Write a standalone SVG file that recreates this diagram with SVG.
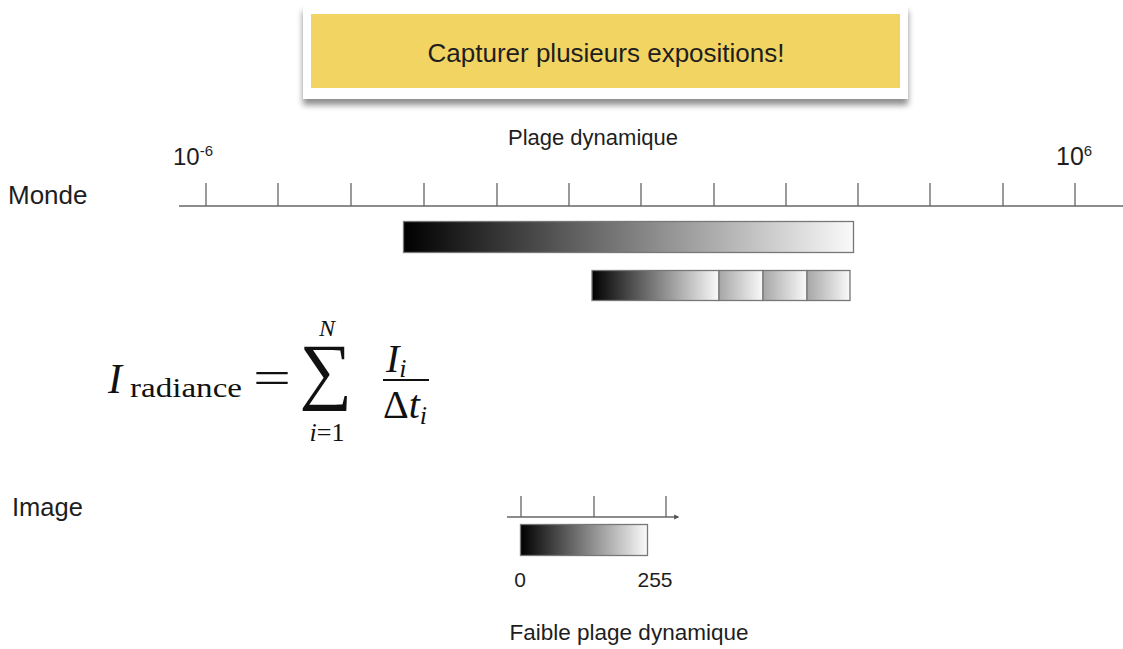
<svg xmlns="http://www.w3.org/2000/svg" width="1123" height="649" viewBox="0 0 1123 649">
<defs>
<linearGradient id="g1" x1="0" x2="1" y1="0" y2="0"><stop offset="0" stop-color="#000"/><stop offset="1" stop-color="#fafafa"/></linearGradient>
<linearGradient id="g2" x1="0" x2="1" y1="0" y2="0"><stop offset="0" stop-color="#a6a6a6"/><stop offset="1" stop-color="#fafafa"/></linearGradient>
<filter id="sh" x="-5%" y="-20%" width="110%" height="150%"><feGaussianBlur in="SourceAlpha" stdDeviation="3"/><feOffset dy="6"/><feComponentTransfer><feFuncA type="linear" slope="0.45"/></feComponentTransfer><feMerge><feMergeNode/><feMergeNode in="SourceGraphic"/></feMerge></filter>
<marker id="arr" markerWidth="4" markerHeight="4" refX="3" refY="2" orient="auto"><path d="M0,0 L4,2 L0,4 z" fill="#555"/></marker>
</defs>
<style>
.t{font-family:"Liberation Sans",Arial,sans-serif;fill:#1e1e1e}
.ax{stroke:#666;stroke-width:1.3;fill:none}
.bar{stroke:#777;stroke-width:1.3}
.m{font-family:"Liberation Serif","Times New Roman",serif;fill:#111}
</style>
<rect width="1123" height="649" fill="#fff"/>
<g id="banner">
<rect x="303" y="5" width="605" height="94" fill="#fff" filter="url(#sh)"/>
<rect x="311" y="14" width="589" height="74" fill="#f2d463"/>
<text class="t" x="606" y="62" font-size="26" text-anchor="middle" fill="#111">Capturer plusieurs expositions!</text>
</g>
<g id="labels">
<text class="t" x="593" y="145" font-size="22" text-anchor="middle">Plage dynamique</text>
<text class="t" x="173" y="165" font-size="24">10<tspan font-size="15" dy="-9">-6</tspan></text>
<text class="t" x="1056" y="165" font-size="25">10<tspan font-size="15" dy="-9">6</tspan></text>
<text class="t" x="8" y="204" font-size="26">Monde</text>
<text class="t" x="12" y="516" font-size="25.5">Image</text>
<text class="t" x="629" y="640" font-size="22.5" text-anchor="middle">Faible plage dynamique</text>
<text class="t" x="520" y="587" font-size="21" text-anchor="middle">0</text>
<text class="t" x="655" y="587" font-size="21" text-anchor="middle">255</text>
</g>
<g id="axis-world">
<line class="ax" x1="179" y1="206" x2="1123" y2="206"/>
<path class="ax" d="M206,183V206M278,183V206M351,183V206M424,183V206M497,183V206M569,183V206M641,183V206M714,183V206M786,183V206M858,183V206M930,183V206M1003,183V206M1075,183V206"/>
</g>
<g id="bar-world">
<rect class="bar" x="403.5" y="221.5" width="450" height="31" fill="url(#g1)"/>
</g>
<g id="bar-exposures">
<rect class="bar" x="592" y="270.5" width="127" height="30" fill="url(#g1)"/>
<rect class="bar" x="719" y="270.5" width="44" height="30" fill="url(#g2)"/>
<rect class="bar" x="763" y="270.5" width="44" height="30" fill="url(#g2)"/>
<rect class="bar" x="807" y="270.5" width="43" height="30" fill="url(#g2)"/>
</g>
<g id="formula">
<text class="m" x="108" y="393" font-size="42" font-style="italic">I</text>
<text class="m" x="130" y="397" font-size="28" textLength="112" lengthAdjust="spacingAndGlyphs">radiance</text>
<text class="m" x="253" y="393" font-size="46" textLength="38" lengthAdjust="spacingAndGlyphs">=</text>
<text class="m" x="326" y="395" font-size="74" text-anchor="middle">∑</text>
<text class="m" x="327" y="336" font-size="24" font-style="italic" text-anchor="middle">N</text>
<text class="m" x="327" y="441" font-size="26" text-anchor="middle"><tspan font-style="italic">i</tspan>=1</text>
<text class="m" x="386" y="372" font-size="40" font-style="italic">I<tspan font-size="26" dy="5">i</tspan></text>
<line x1="383" y1="380" x2="429" y2="380" stroke="#111" stroke-width="1.8"/>
<text class="m" x="383" y="418" font-size="40">Δ<tspan font-style="italic">t</tspan><tspan font-size="26" font-style="italic" dy="6">i</tspan></text>
</g>
<g id="axis-image">
<line class="ax" x1="507" y1="517" x2="678" y2="517" marker-end="url(#arr)"/>
<path class="ax" d="M521,496V517M594,496V517M666,496V517"/>
</g>
<g id="bar-image">
<rect class="bar" x="520.5" y="524.5" width="127" height="31" fill="url(#g1)"/>
</g>
</svg>
